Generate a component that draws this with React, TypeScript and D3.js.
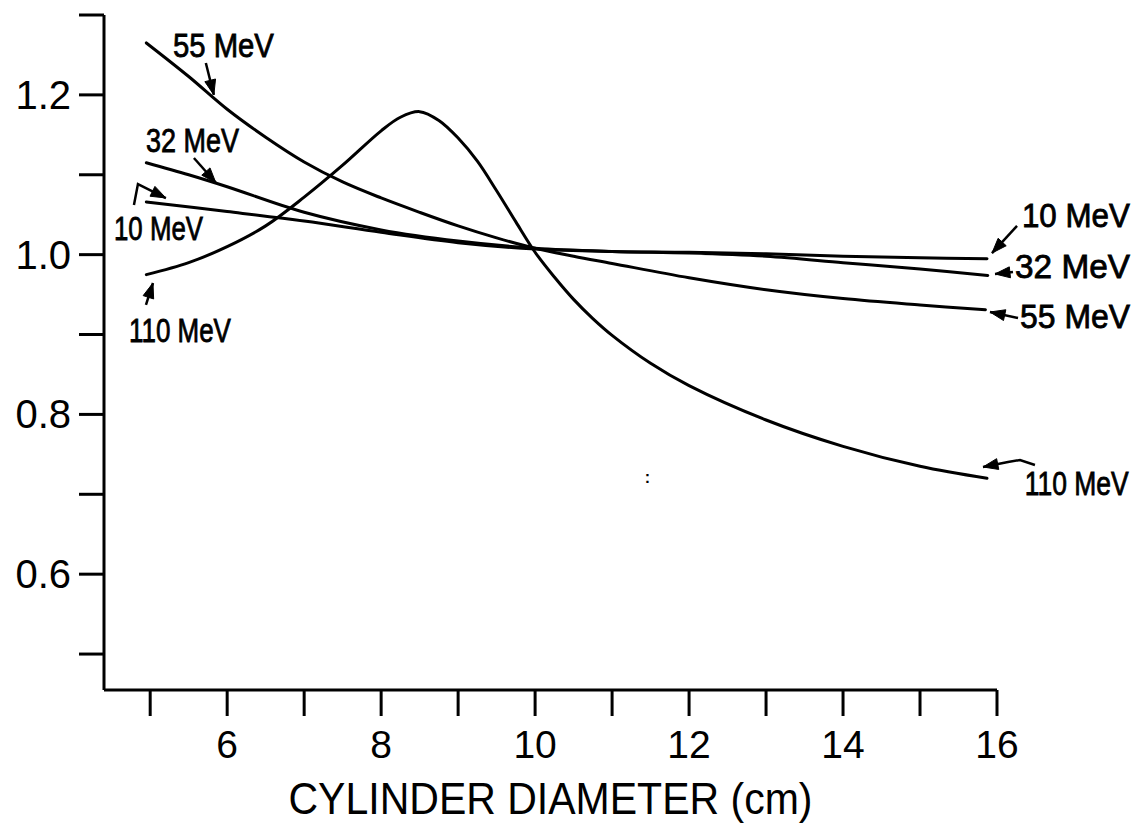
import React from "react";
import * as d3 from "d3";

// ---- Data ----
const xTicks = [5, 6, 7, 8, 9, 10, 11, 12, 13, 14, 15, 16];
const xTickLabels = ["6", "8", "10", "12", "14", "16"];
const yTicks = [0.5, 0.6, 0.7, 0.8, 0.9, 1.0, 1.1, 1.2, 1.3];
const yTickLabels = ["0.6", "0.8", "1.0", "1.2"];
const xTitle = "CYLINDER DIAMETER (cm)";

const x55 = [4.95, 5.5, 6, 6.5, 7, 7.5, 8, 8.5, 9, 9.5, 10, 10.5, 11, 12, 13, 14, 15, 15.85];
const y55 = [1.265, 1.223, 1.182, 1.147, 1.116, 1.091, 1.071, 1.053, 1.036, 1.021, 1.008, 0.998, 0.989, 0.971, 0.956, 0.945, 0.937, 0.931];

const x32 = [4.95, 5.5, 6, 7, 8, 9, 10, 11, 12, 13, 14, 15, 15.88];
const y32 = [1.115, 1.1, 1.085, 1.053, 1.031, 1.017, 1.008, 1.004, 1.002, 0.998, 0.99, 0.982, 0.974];

const x10 = [4.95, 6, 7, 8, 9, 10, 11, 12, 13, 14, 15, 15.87];
const y10 = [1.066, 1.054, 1.042, 1.028, 1.015, 1.007, 1.004, 1.003, 1.001, 0.998, 0.996, 0.995];

const x110 = [4.95, 5.5, 6, 6.5, 7, 7.5, 8, 8.25, 8.5, 8.75, 9, 9.25, 9.5, 9.75, 10, 10.25, 10.5, 10.75, 11, 11.5, 12, 13, 14, 15, 15.87];
const y110 = [0.975, 0.99, 1.01, 1.036, 1.072, 1.112, 1.155, 1.172, 1.179, 1.168, 1.146, 1.117, 1.08, 1.041, 1.003, 0.972, 0.944, 0.92, 0.899, 0.864, 0.836, 0.793, 0.76, 0.735, 0.72];

const seriesNames = ["55 MeV", "32 MeV", "10 MeV", "110 MeV"];
const seriesX = [x55, x32, x10, x110];
const seriesY = [y55, y32, y10, y110];

// annotation labels: text position (data units), text width, arrow polyline (data units)
const labelText = ["55 MeV", "32 MeV", "10 MeV", "110 MeV", "10 MeV", "32 MeV", "55 MeV", "110 MeV"];
const labelPos: [number, number][] = [
  [5.295, 1.247], [4.945, 1.1285], [4.53, 1.0183], [4.724, 0.8906],
  [16.324, 1.0346], [16.234, 0.9708], [16.299, 0.9082], [16.36, 0.6991],
];
const labelWidth = [101, 93, 89, 102, 108, 115, 110, 104];
const labelArrows: [number, number][][] = [
  [[5.723, 1.24], [5.827, 1.2]],
  [[5.568, 1.121], [5.853, 1.09]],
  [[4.789, 1.0621], [4.841, 1.0884], [5.204, 1.0709]],
  [[4.945, 0.937], [5.036, 0.9645]],
  [[16.26, 1.0359], [15.935, 1.002]],
  [[16.208, 0.9783], [15.974, 0.9758]],
  [[16.273, 0.9207], [15.909, 0.9282]],
  [[16.493, 0.7367], [16.299, 0.7429], [16.143, 0.7404], [15.818, 0.7342]],
];

const W = 1143;
const H = 824;
const FONT = "'Liberation Sans', Arial, sans-serif";

export default function App() {
  const x = d3.scaleLinear().domain([4.4, 16]).range([104, 997]);
  const y = d3.scaleLinear().domain([0.455, 1.3]).range([690, 15]);
  const line = d3
    .line<[number, number]>()
    .x((d) => x(d[0]))
    .y((d) => y(d[1]))
    .curve(d3.curveCatmullRom.alpha(0.5));
  const poly = d3
    .line<[number, number]>()
    .x((d) => x(d[0]))
    .y((d) => y(d[1]));

  const arrowHead = (pts: [number, number][]) => {
    const a = pts[pts.length - 2];
    const b = pts[pts.length - 1];
    const ax = x(a[0]), ay = y(a[1]), bx = x(b[0]), by = y(b[1]);
    const ang = Math.atan2(by - ay, bx - ax);
    const L = 15, Wd = 5.5;
    const bx0 = bx - L * Math.cos(ang), by0 = by - L * Math.sin(ang);
    const p1 = [bx0 + Wd * Math.sin(ang), by0 - Wd * Math.cos(ang)];
    const p2 = [bx0 - Wd * Math.sin(ang), by0 + Wd * Math.cos(ang)];
    return `M${bx},${by}L${p1[0]},${p1[1]}L${p2[0]},${p2[1]}Z`;
  };

  const x0 = x.range()[0];
  const yBase = y.range()[0];
  const axisCenter = (x0 + x(16)) / 2;

  return (
    <svg
      width={W}
      height={H}
      style={{ position: "absolute", left: 0, top: 0, background: "#fff" }}
    >
      <rect x={0} y={0} width={W} height={H} fill="#fff" />
      {/* axes */}
      <line x1={x0} x2={x0} y1={y(1.3)} y2={yBase} stroke="#000" strokeWidth={3} />
      <line x1={x0} x2={x(16)} y1={yBase} y2={yBase} stroke="#000" strokeWidth={3} />
      {yTicks.map((t) => (
        <line key={"yt" + t} x1={x0 - 25} x2={x0} y1={y(t)} y2={y(t)} stroke="#000" strokeWidth={3} />
      ))}
      {yTickLabels.map((t) => (
        <text key={"yl" + t} x={71} y={y(+t) + 14} textAnchor="end" fontFamily={FONT} fontSize={40} fill="#000">
          {t}
        </text>
      ))}
      {xTicks.map((t) => (
        <line key={"xt" + t} x1={x(t)} x2={x(t)} y1={yBase} y2={yBase + 26} stroke="#000" strokeWidth={3} />
      ))}
      {xTickLabels.map((t) => (
        <text key={"xl" + t} x={x(+t)} y={758} textAnchor="middle" fontFamily={FONT} fontSize={39} fill="#000">
          {t}
        </text>
      ))}
      <text
        x={axisCenter}
        y={814}
        textAnchor="middle"
        fontFamily={FONT}
        fontSize={44}
        textLength={524}
        lengthAdjust="spacingAndGlyphs"
        fill="#000"
      >
        {xTitle}
      </text>

      {/* curves */}
      {seriesNames.map((n, i) => (
        <path
          key={n}
          d={line(seriesX[i].map((v, j) => [v, seriesY[i][j]] as [number, number])) || ""}
          fill="none"
          stroke="#000"
          strokeWidth={3}
          strokeLinecap="round"
        />
      ))}

      {/* annotations */}
      {labelText.map((t, i) => (
        <g key={"lab" + i}>
          <text
            x={x(labelPos[i][0])}
            y={y(labelPos[i][1])}
            fontFamily={FONT}
            fontSize={33}
            textLength={labelWidth[i]}
            lengthAdjust="spacingAndGlyphs"
            fill="#000"
            stroke="#000"
            strokeWidth={0.8}
          >
            {t}
          </text>
          <path d={poly(labelArrows[i]) || ""} fill="none" stroke="#000" strokeWidth={2.5} />
          <path d={arrowHead(labelArrows[i])} fill="#000" stroke="#000" strokeWidth={1} />
        </g>
      ))}
      <text x={x(11.46)} y={y(0.7216) + 6} fontFamily={FONT} fontSize={16} fontWeight="bold" textAnchor="middle" fill="#000">
        :
      </text>
    </svg>
  );
}
